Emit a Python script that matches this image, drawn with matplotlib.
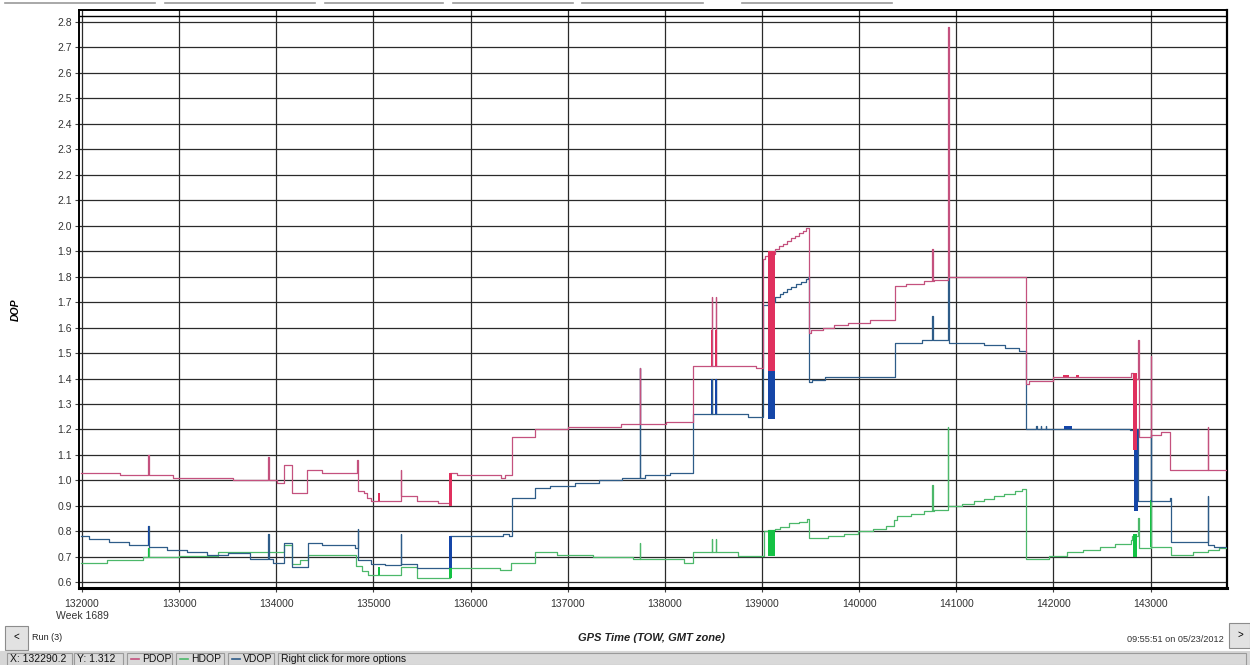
"""DOP vs GPS time, redrawn from a receiver log viewer screenshot."""

import matplotlib.pyplot as plt
from matplotlib.patches import Rectangle
from matplotlib.lines import Line2D

plt.rcParams['font.family'] = ['Liberation Sans', 'DejaVu Sans']

# ---- data (GPS time of week, seconds) ----
pdop_t = [131985, 132390, 132684, 132690, 132940, 133553, 133915, 133921, 134007, 134080,
          134160, 134320, 134470, 134830, 134836, 134900, 134935, 134975, 135282, 135288,
          135452, 135666, 135790, 135860, 136310, 136355, 136423, 136663, 137000, 137545,
          137740, 137746, 138010, 138288, 138480, 138486, 138524, 138530, 138942, 139005,
          139035, 139060, 139137, 139175, 139215, 139255, 139295, 139340, 139380, 139425,
          139455, 139485, 139500, 139625, 139745, 139880, 140113, 140365, 140478, 140666,
          140754, 140760, 140768, 140916, 140922, 141720, 141750, 142000, 142800, 142820,
          142870, 142876, 143000, 143006, 143110, 143200, 143587, 143593, 143786]
pdop_v = [1.03, 1.02, 1.10, 1.02, 1.01, 1.00, 1.09, 1.00, 0.99, 1.06,
          0.95, 1.04, 1.03, 1.08, 0.96, 0.95, 0.93, 0.92, 1.04, 0.94,
          0.92, 0.91, 1.03, 1.02, 1.01, 1.02, 1.17, 1.20, 1.21, 1.22,
          1.44, 1.22, 1.23, 1.45, 1.72, 1.45, 1.72, 1.45, 1.44, 1.87,
          1.88, 1.89, 1.91, 1.92, 1.93, 1.94, 1.95, 1.96, 1.97, 1.98,
          1.99, 1.58, 1.59, 1.60, 1.61, 1.62, 1.63, 1.765, 1.773, 1.783,
          1.91, 1.783, 1.788, 2.78, 1.80, 1.38, 1.39, 1.405, 1.42, 1.40,
          1.55, 1.17, 1.49, 1.18, 1.19, 1.04, 1.21, 1.04, 1.04]

vdop_t = [131985, 132068, 132276, 132479, 132684, 132690, 132872, 133078, 133283, 133505,
          133730, 133915, 133921, 133966, 134082, 134162, 134326, 134469, 134814, 134838,
          134844, 134976, 135114, 135280, 135286, 135452, 135790, 136337, 136398, 136423,
          136663, 136822, 137072, 137319, 137559, 137740, 137746, 137799, 138057, 138290,
          138480, 138486, 138524, 138530, 138858, 139005, 139060, 139137, 139180, 139220,
          139260, 139300, 139350, 139400, 139450, 139475, 139488, 139510, 139650, 140365,
          140648, 140754, 140760, 140916, 140922, 141280, 141500, 141650, 141720, 141820,
          141826, 141870, 141876, 141920, 141926, 142785, 142820, 142870, 143000, 143006,
          143195, 143212, 143588, 143594, 143657, 143786]
vdop_v = [0.78, 0.77, 0.757, 0.747, 0.82, 0.738, 0.727, 0.717, 0.706, 0.716,
          0.692, 0.79, 0.692, 0.676, 0.756, 0.66, 0.756, 0.747, 0.736, 0.81,
          0.687, 0.672, 0.667, 0.79, 0.673, 0.656, 0.78, 0.789, 0.78, 0.93,
          0.97, 0.98, 0.99, 1.00, 1.01, 1.44, 1.01, 1.02, 1.03, 1.26,
          1.40, 1.26, 1.40, 1.26, 1.25, 1.69, 1.70, 1.72, 1.73, 1.74,
          1.75, 1.76, 1.77, 1.78, 1.79, 1.80, 1.385, 1.395, 1.405, 1.54,
          1.55, 1.645, 1.55, 1.80, 1.54, 1.53, 1.52, 1.51, 1.20, 1.215,
          1.20, 1.215, 1.20, 1.215, 1.20, 1.196, 1.20, 0.918, 1.18, 0.918,
          0.931, 0.757, 0.94, 0.748, 0.738, 0.738]

hdop_t = [131985, 132257, 132625, 132684, 132690, 133000, 133400, 134082, 134162, 134240,
          134326, 134821, 134880, 134940, 135286, 135452, 135786, 136302, 136412, 136663,
          136887, 137258, 137670, 137741, 137747, 138192, 138289, 138480, 138486, 138524,
          138530, 138749, 139017, 139060, 139131, 139189, 139275, 139378, 139464, 139485,
          139676, 139846, 139983, 140137, 140273, 140358, 140392, 140529, 140666, 140754,
          140760, 140768, 140911, 140917, 141058, 141180, 141280, 141385, 141490, 141600,
          141680, 141720, 141949, 142137, 142307, 142478, 142631, 142802, 142812, 142870,
          142876, 143000, 143006, 143212, 143433, 143587, 143706, 143786]
hdop_v = [0.676, 0.688, 0.70, 0.733, 0.70, 0.705, 0.717, 0.745, 0.673, 0.686,
          0.707, 0.665, 0.645, 0.627, 0.66, 0.617, 0.655, 0.648, 0.677, 0.72,
          0.707, 0.70, 0.69, 0.754, 0.69, 0.677, 0.72, 0.77, 0.72, 0.77,
          0.72, 0.703, 0.80, 0.806, 0.808, 0.819, 0.832, 0.838, 0.849, 0.774,
          0.78, 0.79, 0.80, 0.81, 0.82, 0.846, 0.86, 0.87, 0.88, 0.983,
          0.88, 0.885, 1.21, 0.898, 0.907, 0.918, 0.927, 0.938, 0.948, 0.958,
          0.967, 0.692, 0.705, 0.718, 0.728, 0.739, 0.75, 0.765, 0.78, 0.853,
          0.735, 0.925, 0.739, 0.709, 0.718, 0.728, 0.735, 0.735]

# fast-switching stretches that show up as solid bars: (time, low, high, width in s)
pdop_bursts = [(135055, 0.92, 0.95, 15), (135790, 0.90, 1.03, 30), (138480, 1.45, 1.59, 14),
               (138525, 1.45, 1.59, 14), (139098, 1.43, 1.90, 78), (142842, 1.12, 1.42, 40),
               (142130, 1.405, 1.413, 60), (142250, 1.405, 1.413, 30)]
vdop_bursts = [(132684, 0.747, 0.82, 10), (135790, 0.656, 0.78, 30), (138480, 1.26, 1.40, 14),
               (138525, 1.26, 1.40, 14), (139098, 1.24, 1.43, 78), (142845, 0.88, 1.20, 40),
               (142150, 1.20, 1.215, 80)]
hdop_bursts = [(132684, 0.70, 0.733, 10), (135055, 0.627, 0.66, 15), (135790, 0.617, 0.655, 30),
               (139098, 0.705, 0.806, 78), (142836, 0.70, 0.79, 40), (143000, 0.739, 0.925, 12)]

x_ticks = list(range(132000, 143001, 1000))
y_ticks = [round(0.6 + 0.1 * i, 1) for i in range(23)]

PDOP_C, PDOP_DARK = '#c4517e', '#e0305e'
VDOP_C, VDOP_DARK = '#2e5c88', '#1546a8'
HDOP_C, HDOP_DARK = '#4cb86a', '#14c244'

W, H = 1250, 665
fig = plt.figure(figsize=(W / 100, H / 100), dpi=100)
fig.patch.set_facecolor('white')
ax = fig.add_axes([79 / W, 1 - 588 / H, (1227 - 79) / W, (588 - 10) / H])

ax.set_xlim(131969, 143786)
ax.set_ylim(0.5776, 2.847)
ax.set_xticks(x_ticks)
ax.set_xticklabels([str(t) for t in x_ticks])
ax.set_yticks(y_ticks)
ax.set_yticklabels(['%.1f' % v for v in y_ticks])
ax.grid(True, color='#2a2a2a', lw=0.9)
ax.set_axisbelow(True)
ax.tick_params(axis='both', direction='out', length=3, width=0.8, color='#444444',
               labelsize=7.5, labelcolor='#333333', pad=2)
ax.tick_params(axis='x', pad=5)

for name, sp in ax.spines.items():
    sp.set_color('black')
ax.spines['bottom'].set_linewidth(2.2)
ax.spines['left'].set_linewidth(1.4)
ax.spines['top'].set_linewidth(1.4)
ax.spines['right'].set_linewidth(1.6)
# inner border line under the top edge
ax.add_line(Line2D([0, 1], [(588 - 16) / 578] * 2, transform=ax.transAxes,
                   color='black', lw=1.0, zorder=1))

for t, v, c, dark, bursts in [(hdop_t, hdop_v, HDOP_C, HDOP_DARK, hdop_bursts),
                              (vdop_t, vdop_v, VDOP_C, VDOP_DARK, vdop_bursts),
                              (pdop_t, pdop_v, PDOP_C, PDOP_DARK, pdop_bursts)]:
    ax.plot(t, v, drawstyle='steps-post', color=c, lw=0.9, zorder=3)
    for bx, lo, hi, w in bursts:
        ax.bar(bx, hi - lo, bottom=lo, width=w, color=dark, lw=0, zorder=4)

ax.set_ylabel('DOP', fontsize=7.5, fontweight='bold', fontstyle='italic')
ax.yaxis.set_label_coords(-58 / 1148, (588 - 310) / 578)
fig.text(82 / W, 1 - 616 / H, 'Week 1689', fontsize=7.5, color='#333333',
         ha='center', va='center')
fig.text(652 / W, 1 - 638 / H, 'GPS Time (TOW, GMT zone)', fontsize=8, fontweight='bold',
         fontstyle='italic', color='#222222', ha='center', va='center')
fig.text(1224 / W, 1 - 639 / H, '09:55:51 on 05/23/2012', fontsize=6.6, color='#333333',
         ha='right', va='center')

# tab strip remnants along the top
for x0, x1 in [(5, 155), (165, 315), (325, 443), (453, 573), (582, 703), (742, 892)]:
    fig.add_artist(Line2D([x0 / W, x1 / W], [1 - 3 / H] * 2, color='#9a9a9a', lw=1.2))


def box(x0, y0, x1, y1, face, edge='#8c8c8c'):
    fig.add_artist(Rectangle((x0 / W, 1 - y1 / H), (x1 - x0) / W, (y1 - y0) / H,
                             transform=fig.transFigure, facecolor=face, edgecolor=edge, lw=0.8))


# navigation buttons
box(5, 626, 28, 650, '#e2e2e2')
fig.text(16 / W, 1 - 637 / H, '<', fontsize=7, ha='center', va='center')
fig.text(32 / W, 1 - 638 / H, 'Run (3)', fontsize=6.5, color='#222222', va='center')
box(1229, 623, 1250, 648, '#e2e2e2')
fig.text(1240 / W, 1 - 635 / H, '>', fontsize=7, ha='center', va='center')

# status bar
box(0, 651, 1250, 665, '#d6d6d6', edge='#d6d6d6')
cells = [(7, 72, 'X: 132290.2', None), (74, 123, 'Y: 1.312', None),
         (127, 172, 'PDOP', PDOP_C), (176, 224, 'HDOP', HDOP_C),
         (228, 274, 'VDOP', VDOP_C), (278, 1246, 'Right click for more options', None)]
for x0, x1, label, col in cells:
    box(x0, 653, x1, 665, '#d9d9d9', edge='#9a9a9a')
    tx = x0 + 3
    if col:
        fig.add_artist(Line2D([(x0 + 4) / W, (x0 + 12) / W], [1 - 659 / H] * 2, color=col, lw=1.2))
        tx = x0 + 15
    fig.text(tx / W, 1 - 659.5 / H, label, fontsize=7.5, color='#111111', va='center')

fig.savefig('out.png', dpi=100)
